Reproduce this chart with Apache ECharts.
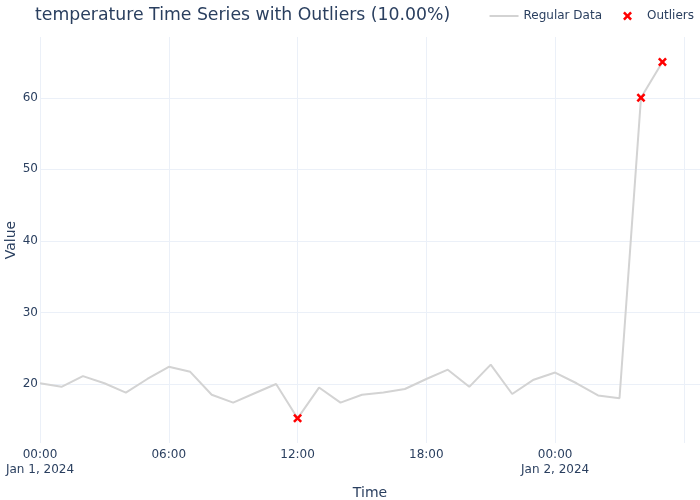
<!DOCTYPE html>
<html>
<head>
<meta charset="utf-8">
<script src="https://cdn.jsdelivr.net/npm/echarts@6/dist/echarts.min.js"></script>
<style>
  html, body { margin: 0; padding: 0; background: #fff; }
  #chart { width: 700px; height: 500px; }
</style>
</head>
<body>
<div id="chart"></div>
<script>
const times = [
  '2024-01-01 00:00', '2024-01-01 01:00', '2024-01-01 02:00', '2024-01-01 03:00', '2024-01-01 04:00',
  '2024-01-01 05:00', '2024-01-01 06:00', '2024-01-01 07:00', '2024-01-01 08:00', '2024-01-01 09:00',
  '2024-01-01 10:00', '2024-01-01 11:00', '2024-01-01 12:00', '2024-01-01 13:00', '2024-01-01 14:00',
  '2024-01-01 15:00', '2024-01-01 16:00', '2024-01-01 17:00', '2024-01-01 18:00', '2024-01-01 19:00',
  '2024-01-01 20:00', '2024-01-01 21:00', '2024-01-01 22:00', '2024-01-01 23:00', '2024-01-02 00:00',
  '2024-01-02 01:00', '2024-01-02 02:00', '2024-01-02 03:00', '2024-01-02 04:00', '2024-01-02 05:00'
];
const values = [
  20.1, 19.6, 21.1, 20.1, 18.8, 20.7, 22.4, 21.7, 18.5, 17.4,
  18.7, 20.0, 15.2, 19.5, 17.4, 18.5, 18.8, 19.3, 20.7, 22.0,
  19.6, 22.7, 18.6, 20.6, 21.6, 20.1, 18.4, 18.0, 60.0, 65.0
];
const outlierTimes = ['2024-01-01 12:00', '2024-01-02 04:00', '2024-01-02 05:00'];
const outlierValues = [15.2, 60.0, 65.0];

const txt = '#2a3f5f';
const gridCol = '#ebf0f8';
const font = 'DejaVu Sans, Verdana, sans-serif';
// plotly-like thick "x" marker
const xSym = 'path://M0,2 L2,0 L5,3 L8,0 L10,2 L7,5 L10,8 L8,10 L5,7 L2,10 L0,8 L3,5 Z';
// flat line legend icon (stray move-tos keep the box 29x9)
const lineIcon = 'path://M0,0 M0,3.5 L29,3.5 L29,5.5 L0,5.5 Z M29,9';
const months = ['Jan','Feb','Mar','Apr','May','Jun','Jul','Aug','Sep','Oct','Nov','Dec'];
const pad = n => (n < 10 ? '0' : '') + n;

const chart = echarts.init(document.getElementById('chart'), null, { renderer: 'canvas' });

chart.setOption({
  backgroundColor: '#fff',
  animation: false,
  textStyle: { fontFamily: font, color: txt },
  title: {
    text: 'temperature Time Series with Outliers (10.00%)',
    left: 30, top: 2,
    textStyle: { fontFamily: font, fontSize: 17.3, fontWeight: 'normal', color: txt }
  },
  legend: {
    right: 1, top: 5,
    itemWidth: 29, itemHeight: 9, itemGap: 21,
    textStyle: { fontFamily: font, fontSize: 12, color: txt },
    data: [
      { name: 'Regular Data', icon: lineIcon },
      { name: 'Outliers' }
    ]
  },
  grid: { left: 40, right: 0, top: 37, bottom: 57, outerBoundsMode: 'none', containLabel: false },
  xAxis: {
    type: 'time',
    min: '2024-01-01 00:00',
    max: '2024-01-02 06:45',
    splitNumber: 5,
    name: 'Time', nameLocation: 'middle', nameGap: 43, nameMoveOverlap: false,
    nameTextStyle: { fontFamily: font, fontSize: 14, color: txt },
    axisLine: { show: false },
    axisTick: { show: false },
    axisLabel: {
      fontFamily: font, fontSize: 12, color: txt, margin: 4, lineHeight: 15,
      showMaxLabel: false,
      hideOverlap: false,
      formatter: function (v) {
        const d = new Date(v);
        const h = d.getHours();
        if (d.getDate() === 2 && h >= 6) return '';
        const s = pad(h) + ':' + pad(d.getMinutes());
        if (h === 0) return s + '\n' + months[d.getMonth()] + ' ' + d.getDate() + ', ' + d.getFullYear();
        return s;
      }
    },
    splitLine: { show: true, showMinLine: false, showMaxLine: false, lineStyle: { color: gridCol, width: 1 } }
  },
  yAxis: {
    type: 'value',
    min: 11.75, max: 68.5,
    name: 'Value', nameLocation: 'middle', nameGap: 29, nameMoveOverlap: false,
    nameTextStyle: { fontFamily: font, fontSize: 14, color: txt, verticalAlign: 'middle', padding: 0 },
    axisLine: { show: false },
    axisTick: { show: false },
    axisLabel: { fontFamily: font, fontSize: 12, color: txt, margin: 2, showMinLabel: false, showMaxLabel: false },
    splitLine: { show: true, showMinLine: false, showMaxLine: false, lineStyle: { color: gridCol, width: 1 } }
  },
  series: [
    {
      name: 'Regular Data',
      type: 'line',
      data: times.map((t, i) => [t, values[i]]),
      symbol: 'none',
      lineStyle: { color: '#d3d3d3', width: 2 },
      itemStyle: { color: '#d3d3d3' },
      z: 2
    },
    {
      name: 'Outliers',
      type: 'scatter',
      data: outlierTimes.map((t, i) => [t, outlierValues[i]]),
      symbol: xSym,
      symbolSize: 9,
      symbolKeepAspect: true,
      itemStyle: { color: '#ff0000', opacity: 1 },
      z: 3
    }
  ]
});
</script>
</body>
</html>
